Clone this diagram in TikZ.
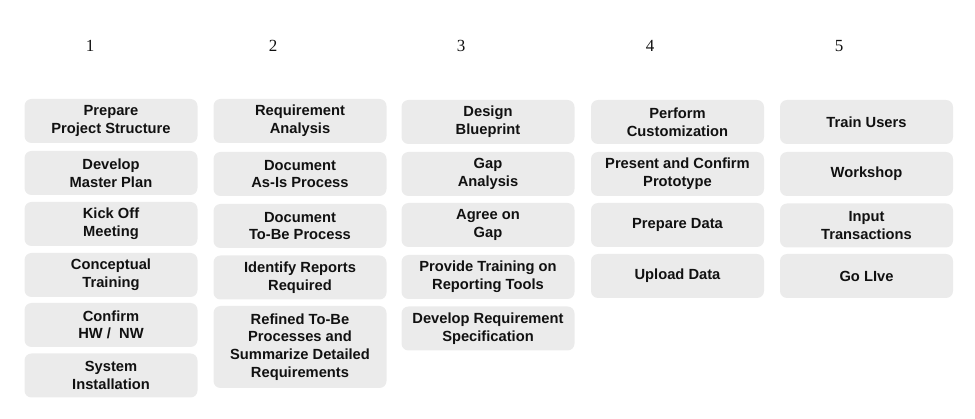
\documentclass[tikz,border=0pt]{standalone}
\usepackage{fontspec}
\setmainfont{Liberation Serif}
\newfontfamily\boxfont{Liberation Sans}
\definecolor{boxgray}{HTML}{EBEBEB}
\definecolor{txt}{HTML}{111111}
\begin{document}
\begin{tikzpicture}[x=1pt,y=-1pt,
  task/.style={fill=boxgray, rounded corners=7pt, minimum width=173pt, minimum height=44pt,
    inner sep=0pt, align=center, text=txt, font=\boxfont\bfseries\fontsize{14.7}{17.6}\selectfont},
  tall/.style={task, minimum height=82pt},
  phase/.style={font=\fontsize{17}{19}\selectfont, text=txt}]
\useasboundingbox (0,0) rectangle (975,419);
% phase numbers
\node[phase] (n1) at (90,46) {1};
\node[phase] (n2) at (273,46) {2};
\node[phase] (n3) at (461,46) {3};
\node[phase] (n4) at (650,46) {4};
\node[phase] (n5) at (839,46) {5};
% column 1
\node[task] (a1) at (111,121) {Prepare\\Project Structure};
\node[task] (a2) at (111,173) {Develop\\Master Plan};
\node[task] (a3) at (111,224) {Kick Off\\Meeting};
\node[task] (a4) at (111,275) {Conceptual\\Training};
\node[task] (a5) at (111,325) {Confirm\\HW /\ \ NW};
\node[task] (a6) at (111,375.5) {System\\Installation};
% column 2
\node[task] (b1) at (300,121) {Requirement\\Analysis};
\node[task] (b2) at (300,174) {Document\\As-Is Process};
\node[task] (b3) at (300,226) {Document\\To-Be Process};
\node[task] (b4) at (300,277.5) {Identify Reports\\Required};
\node[tall] (b5) at (300,347) {Refined To-Be\\Processes and\\Summarize Detailed\\Requirements};
% column 3
\node[task] (c1) at (488,122) {Design\\Blueprint};
\node[task] (c2) at (488,174) {Gap\\Analysis};
\node[task] (c3) at (488,225) {Agree on\\Gap};
\node[task] (c4) at (488,277) {Provide Training on\\Reporting Tools};
\node[task] (c5) at (488,328.5) {Develop Requirement\\Specification};
% column 4
\node[task] (d1) at (677.5,122) {Perform\\Customization};
\node[task] (d2) at (677.5,174) {Present and Confirm\\Prototype};
\node[task] (d3) at (677.5,225) {Prepare Data};
\node[task] (d4) at (677.5,276) {Upload Data};
% column 5
\node[task] (e1) at (866.5,122) {Train Users};
\node[task] (e2) at (866.5,174) {Workshop};
\node[task] (e3) at (866.5,225.5) {Input\\Transactions};
\node[task] (e4) at (866.5,276) {Go LIve};
\end{tikzpicture}
\end{document}
